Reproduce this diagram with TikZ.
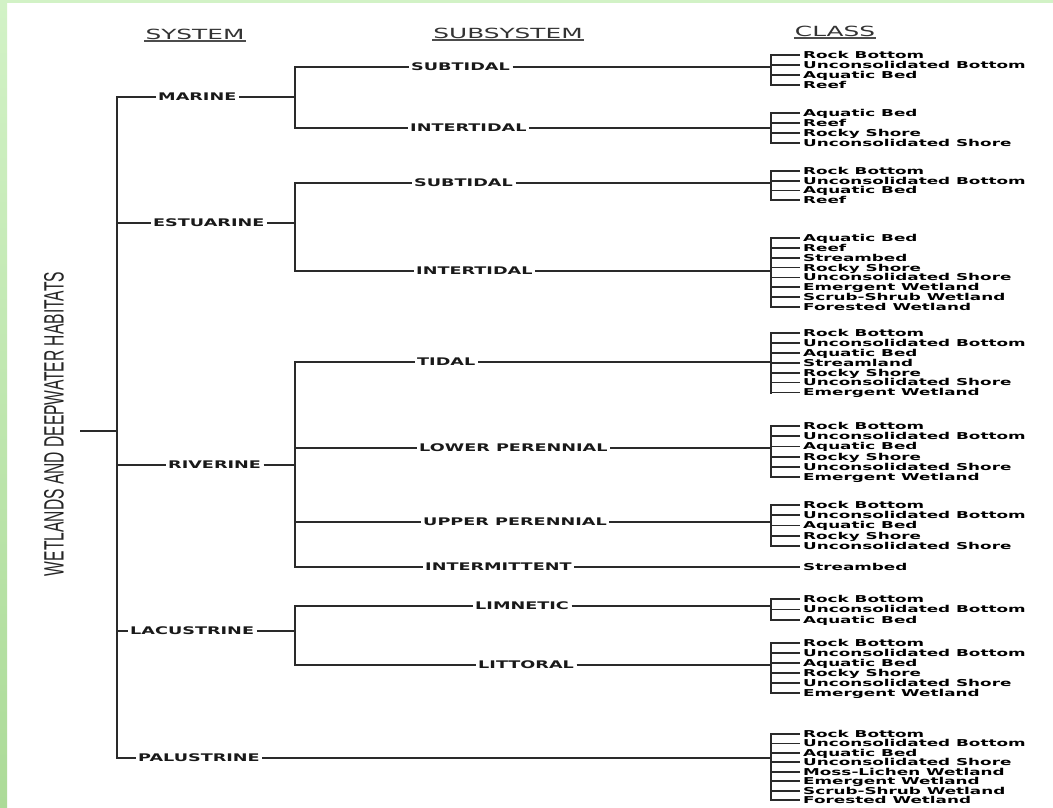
\documentclass[tikz,border=0pt]{standalone}
\usepackage{fontspec}
\newfontfamily\pixfont{DejaVu Sans}
\newfontfamily\titlefont{Liberation Sans}
\definecolor{wiregray}{HTML}{2A2A2A}
\definecolor{framegreen}{HTML}{ACDB98}
\definecolor{framelight}{HTML}{D2F2C6}

\tikzset{
  hdrnode/.style={inner sep=1pt, text=black!80,
    font=\pixfont\fontsize{14}{14}\selectfont},
  sysnode/.style={anchor=west, inner xsep=2.5pt, inner ysep=0pt,
    text height=7.7pt, text depth=0pt, text=black!90,
    font=\pixfont\bfseries\fontsize{10.5}{10.5}\selectfont},
  clsnode/.style={anchor=west, inner xsep=3pt, inner ysep=0pt,
    text height=6.9pt, text depth=0pt, text=black,
    font=\pixfont\bfseries\fontsize{9.5}{9.5}\selectfont},
  wire/.style={draw=wiregray, line width=1.8pt},
  spine/.style={draw=wiregray, line width=2.4pt, line cap=rect},
}
\newcommand{\wideH}[1]{\scalebox{1.77}[1]{#1}}
\newcommand{\wideA}[1]{\scalebox{1.68}[1]{#1}}
\newcommand{\wideB}[1]{\scalebox{1.77}[1]{#1}}
% one bracket of classes: name, first y, step, count, items
\newcommand{\classbracket}[5]{%
  \foreach \txt [count=\k] in {#5} {
    \node[clsnode] (#1-\k) at (800,{#2+(\k-1)*#3}) {\wideB{\txt}};
    \draw[wire] (#1-\k.west -| clsx) -- (#1-\k.west);
  }
  \draw[spine] (#1-1.west -| clsx) -- (#1-#4.west -| clsx);
}

\begin{document}
\begin{tikzpicture}[x=1pt, y=-1pt]
  \useasboundingbox (0,0) rectangle (1053,807);
  % backdrop with green frame on top and left
  \fill[white] (0,0) rectangle (1053,807);
  \shade[top color=framelight, bottom color=framegreen] (0,0) rectangle (7,807);
  \fill[framelight] (0,0) rectangle (1053,3);

  % column heads
  \node[hdrnode] (hsys) at (195,34.5) {\wideH{SYSTEM}};
  \node[hdrnode] (hsub) at (508,33.5) {\wideH{SUBSYSTEM}};
  \node[hdrnode] (hcls) at (835,31.5) {\wideH{CLASS}};
  \foreach \h in {hsys,hsub,hcls}
    \draw[black!70, line width=1.2pt] (\h.south west) -- (\h.south east);

  % root label
  \node[rotate=90, inner sep=0pt, text=black!85,
        font=\titlefont\fontsize{28}{28}\selectfont] (root) at (54,424)
        {\scalebox{0.558}[1]{WETLANDS AND DEEPWATER HABITATS}};

  \coordinate (stem) at (80,431);
  \coordinate (trunk) at (117,431);
  \coordinate (subx) at (295,431);
  \coordinate (clsx) at (771,431);

  % systems
  \node[sysnode] (marine) at (155.5,97) {\wideA{MARINE}};
  \node[sysnode] (estuarine) at (150.5,223) {\wideA{ESTUARINE}};
  \node[sysnode] (riverine) at (165.5,465) {\wideA{RIVERINE}};
  \node[sysnode] (lacustrine) at (127.5,631) {\wideA{LACUSTRINE}};
  \node[sysnode] (palustrine) at (135.5,758) {\wideA{PALUSTRINE}};

  % subsystems
  \node[sysnode] (m-sub) at (408.5,67) {\wideA{SUBTIDAL}};
  \node[sysnode] (m-int) at (407.5,128) {\wideA{INTERTIDAL}};
  \node[sysnode] (e-sub) at (411.5,183) {\wideA{SUBTIDAL}};
  \node[sysnode] (e-int) at (413.5,271) {\wideA{INTERTIDAL}};
  \node[sysnode] (r-tid) at (414.5,362) {\wideA{TIDAL}};
  \node[sysnode] (r-low) at (416.5,448) {\wideA{LOWER PERENNIAL}};
  \node[sysnode] (r-upp) at (420.5,522) {\wideA{UPPER PERENNIAL}};
  \node[sysnode] (r-itm) at (422.5,567) {\wideA{INTERMITTENT}};
  \node[sysnode] (l-lim) at (472.5,606) {\wideA{LIMNETIC}};
  \node[sysnode] (l-lit) at (475.5,665) {\wideA{LITTORAL}};

  % classes
  \classbracket{m-sub}{55}{10}{4}{Rock Bottom, Unconsolidated Bottom, Aquatic Bed, Reef}
  \classbracket{m-int}{113}{10}{4}{Aquatic Bed, Reef, Rocky Shore, Unconsolidated Shore}
  \classbracket{e-sub}{171}{9.7}{4}{Rock Bottom, Unconsolidated Bottom, Aquatic Bed, Reef}
  \classbracket{e-int}{238}{9.85}{8}{Aquatic Bed, Reef, Streambed, Rocky Shore,
    Unconsolidated Shore, Emergent Wetland, Scrub-Shrub Wetland, Forested Wetland}
  \classbracket{r-tid}{333}{9.9}{7}{Rock Bottom, Unconsolidated Bottom, Aquatic Bed,
    Streamland, Rocky Shore, Unconsolidated Shore, Emergent Wetland}
  \classbracket{r-low}{426}{10.2}{6}{Rock Bottom, Unconsolidated Bottom, Aquatic Bed,
    Rocky Shore, Unconsolidated Shore, Emergent Wetland}
  \classbracket{r-upp}{505}{10.25}{5}{Rock Bottom, Unconsolidated Bottom, Aquatic Bed,
    Rocky Shore, Unconsolidated Shore}
  \node[clsnode] (r-itm-1) at (800,567) {\wideB{Streambed}};
  \classbracket{l-lim}{599}{10.5}{3}{Rock Bottom, Unconsolidated Bottom, Aquatic Bed}
  \classbracket{l-lit}{643}{10}{6}{Rock Bottom, Unconsolidated Bottom, Aquatic Bed,
    Rocky Shore, Unconsolidated Shore, Emergent Wetland}
  \classbracket{pal}{734}{9.45}{8}{Rock Bottom, Unconsolidated Bottom, Aquatic Bed,
    Unconsolidated Shore, Moss-Lichen Wetland, Emergent Wetland,
    Scrub-Shrub Wetland, Forested Wetland}

  % trunk and branches
  \draw[wire] (stem) -- (trunk);
  \draw[spine] (marine.west -| trunk) -- (palustrine.west -| trunk);
  \foreach \s in {marine,estuarine,riverine,lacustrine,palustrine}
    \draw[wire] (\s.west -| trunk) -- (\s.west);
  \foreach \s in {marine,estuarine,riverine,lacustrine}
    \draw[wire] (\s.east) -- (\s.east -| subx);
  \draw[wire] (palustrine.east) -- (palustrine.east -| clsx);

  % subsystem spines
  \draw[spine] (m-sub.west -| subx) -- (m-int.west -| subx);
  \draw[spine] (e-sub.west -| subx) -- (e-int.west -| subx);
  \draw[spine] (r-tid.west -| subx) -- (r-itm.west -| subx);
  \draw[spine] (l-lim.west -| subx) -- (l-lit.west -| subx);
  \foreach \s in {m-sub,m-int,e-sub,e-int,r-tid,r-low,r-upp,r-itm,l-lim,l-lit}
    \draw[wire] (\s.west -| subx) -- (\s.west);
  \foreach \s in {m-sub,m-int,e-sub,e-int,r-tid,r-low,r-upp,l-lim,l-lit}
    \draw[wire] (\s.east) -- (\s.east -| clsx);
  \draw[wire] (r-itm.east) -- (r-itm-1.west);
\end{tikzpicture}
\end{document}
